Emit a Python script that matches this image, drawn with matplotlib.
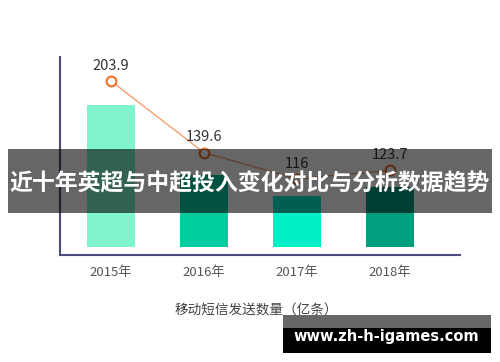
import matplotlib
matplotlib.use("Agg")
import matplotlib.pyplot as plt
from matplotlib.patches import Rectangle

# ---- data ----
years = ["2015年", "2016年", "2017年", "2018年"]
bar_heights = [142, 72, 51, 60]          # bar heights (arbitrary units)
line_values = [203.9, 139.6, 116, 123.7]  # labelled line values
bar_colors = ["#80F4CC", "#00CCA0", "#00EEC8", "#009F80"]
x_label = "移动短信发送数量（亿条）"
banner_text = "近十年英超与中超投入变化对比与分析数据趋势"
watermark = "www.zh-h-igames.com"

plt.rcParams['font.family'] = ['Noto Sans CJK SC', 'DejaVu Sans']

W, H = 500, 362
fig = plt.figure(figsize=(W / 100, H / 100), dpi=100)
ax = fig.add_axes([60 / W, 1 - 255 / H, 400 / W, 198 / H])

x = list(range(len(years)))
ax.bar(x, bar_heights, width=0.516, color=bar_colors, zorder=2)
ax.set_xlim(-0.548, 3.753)
ax.set_ylim(-8, 190)
ax.set_xticks(x)
ax.set_xticklabels(years, fontsize=9.5, color="#555555")
ax.tick_params(axis='x', length=0, pad=8)
ax.set_yticks([])
for s in ("top", "right"):
    ax.spines[s].set_visible(False)
for s in ("left", "bottom"):
    ax.spines[s].set_color("#4b4b80")
    ax.spines[s].set_linewidth(1.5)
ax.set_xlabel(x_label, fontsize=9.8, color="#444444")
ax.xaxis.set_label_coords((256 - 60) / 400, -(303 - 255) / 198)

ax2 = ax.twinx()
ax2.set_ylim(47.7, 225.4)
ax2.set_yticks([])
for s in ax2.spines.values():
    s.set_visible(False)
ax2.plot(x, line_values, color="#F5A070", lw=1.0, marker="o", markersize=7,
         markerfacecolor="white", markeredgecolor="#F07030", markeredgewidth=1.5, zorder=3)
for xi, v in zip(x, line_values):
    ax2.annotate(f"{v:g}", (xi, v), xytext=(0, 11), textcoords="offset points",
                 ha="center", va="center", fontsize=10.5, color="#333333")

# banner overlay
fig.add_artist(Rectangle((8 / W, 1 - 213 / H), 484 / W, 64 / H, transform=fig.transFigure,
                         facecolor="black", alpha=0.6, edgecolor="none", zorder=10))
fig.text(250 / W, 1 - 184 / H, banner_text, ha="center", va="center", fontsize=16.5,
         fontweight="bold", color="white", zorder=11)

# watermark
fig.add_artist(Rectangle((283 / W, 1 - 328 / H), 208 / W, 13 / H, transform=fig.transFigure,
                         facecolor="black", alpha=0.6, edgecolor="none", zorder=10))
fig.add_artist(Rectangle((283 / W, 1 - 353 / H), 208 / W, 25 / H, transform=fig.transFigure,
                         facecolor="black", edgecolor="none", zorder=10))
fig.text(386 / W, 1 - 337 / H, watermark, ha="center", va="center", fontsize=10.5,
         fontweight="bold", color="white", family=["DejaVu Sans"], zorder=11)

fig.savefig("out.png", dpi=100)
